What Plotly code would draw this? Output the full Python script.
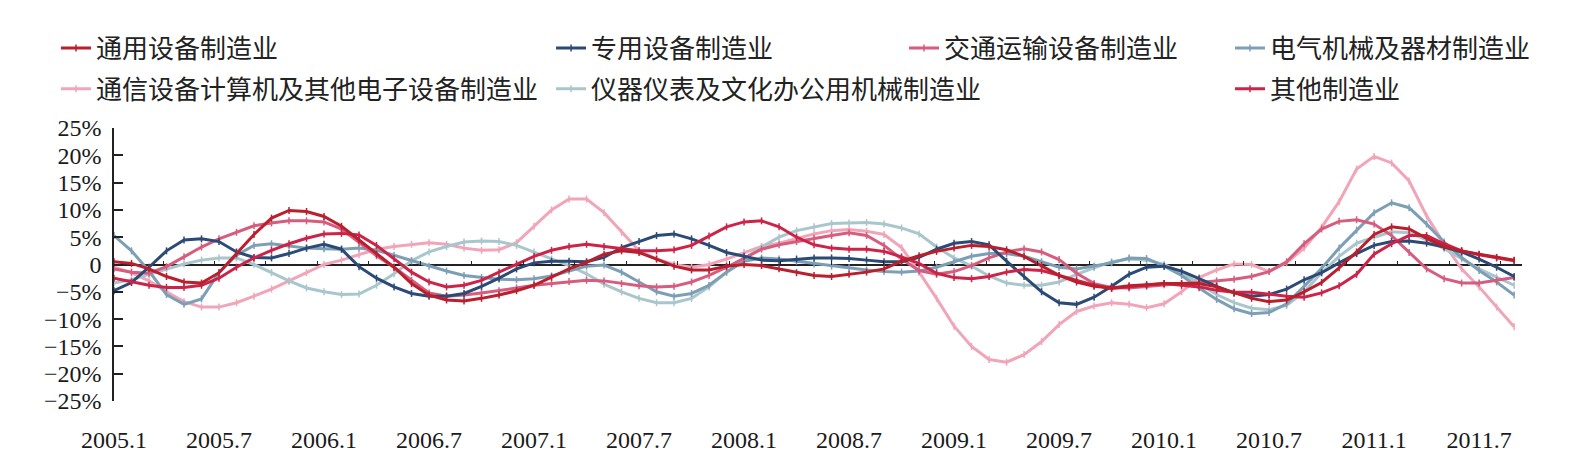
import plotly.graph_objects as go

months = [f"{y}.{m}" for y in range(2005, 2012) for m in range(1, 13)][:81]
tick_labels = ["2005.1", "2005.7", "2006.1", "2006.7", "2007.1", "2007.7", "2008.1",
               "2008.7", "2009.1", "2009.7", "2010.1", "2010.7", "2011.1", "2011.7"]
y_tick_vals = [25, 20, 15, 10, 5, 0, -5, -10, -15, -20, -25]
y_tick_text = ["25%", "20%", "15%", "10%", "5%", "0", "\u22125%", "\u221210%",
               "\u221215%", "\u221220%", "\u221225%"]

tongyong = [0.5, 0.2, -0.8, -2.2, -3.2, -3.4, -1.5, 2.0, 5.5, 8.5, 9.9, 9.7, 8.8, 7.0, 4.5,
            1.9, -0.5, -3.5, -5.6, -6.5, -6.7, -6.2, -5.6, -4.8, -3.8, -2.3, -0.8, 0.4, 1.9,
            2.5, 2.2, 1.0, -0.3, -1.0, -1.0, -0.3, 0.0, -0.2, -0.8, -1.5, -2.0, -2.2, -1.8,
            -1.4, -0.8, 0.6, 1.6, 2.4, 3.0, 3.5, 3.3, 2.7, 1.5, -0.2, -2.0, -3.2, -4.0, -4.3,
            -3.9, -3.7, -3.5, -3.5, -3.5, -4.1, -5.2, -6.2, -6.8, -6.5, -5.0, -3.3, -0.6, 2.3,
            5.5, 6.9, 6.5, 4.8, 3.3, 2.5, 1.9, 1.3, 0.8]
zhuanyong = [-4.8, -3.3, -0.5, 2.5, 4.5, 4.7, 4.2, 2.3, 1.3, 1.2, 2.0, 3.0, 3.7, 2.8, -0.4,
             -2.5, -4.1, -5.3, -5.8, -5.8, -5.3, -4.0, -2.5, -0.8, 0.3, 0.6, 0.6, 0.5, 1.3,
             3.1, 4.2, 5.3, 5.6, 4.7, 3.5, 2.2, 1.5, 0.8, 0.7, 1.0, 1.2, 1.2, 1.1,
             0.8, 0.5, 0.5, 1.3, 2.8, 3.9, 4.2, 3.6, 0.6, -2.2, -5.0, -7.0, -7.3, -6.0, -4.0,
             -1.8, -0.5, -0.3, -1.2, -2.6, -4.0, -5.2, -5.8, -5.5, -4.5, -2.8, -1.5, 0.3, 2.0,
             3.5, 4.2, 4.3, 3.9, 3.2, 2.3, 1.0, -0.5, -2.2]
jiaotong = [-0.8, -1.4, -1.6, -0.4, 1.4, 3.2, 4.7, 5.9, 7.1, 7.6, 8.0, 8.0, 7.8, 6.5, 4.0,
            1.6, -0.5, -2.9, -5.2, -5.8, -5.6, -5.2, -4.8, -4.3, -3.8, -3.5, -3.1, -2.9, -3.0,
            -3.5, -3.9, -4.1, -4.0, -3.2, -2.0, -0.5, 1.2, 2.8, 3.6, 4.2, 4.8, 5.3, 5.8,
            5.3, 3.5, 1.0, -1.1, -1.8, -1.3, -0.2, 1.2, 2.3, 2.9, 2.3, 0.9, -1.6, -3.5, -4.2,
            -4.3, -4.0, -3.7, -3.5, -3.3, -3.0, -2.7, -2.2, -1.3, 0.5, 3.8, 6.5, 7.9, 8.2,
            7.4, 5.3, 2.2, -0.8, -2.6, -3.4, -3.4, -2.9, -2.4]
dianqi = [5.3, 2.5, -1.2, -5.5, -7.3, -6.3, -1.5, 1.7, 3.5, 3.8, 3.4, 3.0, 2.9, 2.8, 3.0,
          2.6, 1.7, 0.7, -0.3, -1.2, -2.0, -2.4, -2.7, -2.8, -2.6, -2.1, -1.2, -0.3, -0.1,
          -1.4, -3.2, -5.0, -5.8, -5.3, -3.8, -1.4, 0.6, 1.2, 1.0, 0.6, 0.1, -0.3, -0.6,
          -1.0, -1.3, -1.4, -1.2, -0.5, 0.5, 1.5, 2.0, 2.0, 1.5, 0.5, -0.5, -0.8, -0.3, 0.3,
          1.2, 1.1, -0.3, -2.0, -4.3, -6.4, -8.1, -9.0, -8.8, -7.2, -4.0, -0.7, 3.0, 6.3,
          9.5, 11.3, 10.4, 7.4, 4.1, 1.3, -1.1, -3.2, -5.6]
tongxin = [-0.5, -1.5, -3.0, -5.0, -6.8, -7.8, -7.8, -7.0, -5.8, -4.5, -3.0, -1.5, 0.0, 0.8, 1.8,
           2.8, 3.3, 3.7, 4.0, 3.7, 3.0, 2.6, 2.7, 4.0, 7.0, 10.0, 12.0, 12.0, 9.5,
           5.9, 2.5, 1.0, 0.0, -0.5, 0.0, 1.0, 2.2, 3.3, 3.9, 4.7, 5.6, 6.2, 6.4,
           6.1, 5.5, 3.1, -1.4, -6.2, -11.3, -15.0, -17.4, -17.9, -16.5, -14.1, -11.0, -8.6, -7.6, -7.0,
           -7.3, -7.9, -7.2, -5.0, -2.4, -1.0, 0.1, 0.0, -1.3, 0.3, 3.0, 6.8, 11.5, 17.5,
           19.8, 18.6, 15.3, 8.9, 3.8, -0.8, -4.1, -7.8, -11.4]
yiqi = [-3.4, -2.8, -1.8, -0.8, 0.1, 0.8, 1.2, 1.2, 0.0, -1.5, -3.0, -4.3, -5.0, -5.5, -5.4,
        -3.8, -1.7, 0.7, 2.3, 3.3, 4.1, 4.3, 4.2, 3.5, 2.3, 1.0, -0.2, -1.7, -3.6,
        -5.0, -6.2, -7.0, -7.0, -6.2, -4.1, -1.4, 1.0, 3.2, 5.0, 6.2, 6.9, 7.5, 7.6,
        7.7, 7.4, 6.7, 5.6, 3.2, 1.2, -0.3, -2.1, -3.4, -3.8, -3.8, -3.2, -1.8, -0.6, 0.5,
        1.0, 0.8, 0.0, -1.5, -3.5, -5.5, -7.0, -8.0, -8.3, -7.5, -5.0, -1.5, 1.5, 3.9,
        5.0, 6.0, 5.8, 4.5, 2.9, 1.0, -0.8, -2.3, -3.8]
qita = [-2.5, -3.2, -3.8, -4.2, -4.2, -3.8, -2.5, -0.5, 1.2, 2.6, 3.8, 4.8, 5.6, 5.7, 5.4,
        3.5, 1.1, -1.4, -3.2, -4.1, -3.8, -2.9, -1.4, 0.1, 1.5, 2.6, 3.3, 3.7, 3.3,
        2.8, 2.5, 2.5, 2.7, 3.5, 5.2, 6.9, 7.8, 8.0, 6.9, 5.0, 3.6, 3.0, 2.8,
        2.8, 2.4, 1.4, 0.2, -1.6, -2.4, -2.6, -2.2, -1.4, -0.9, -1.1, -2.0, -2.9, -3.8, -4.4,
        -4.1, -3.8, -3.5, -3.8, -4.1, -4.7, -5.1, -5.1, -5.5, -5.8, -6.0, -5.2, -3.9, -1.8,
        1.9, 3.8, 5.3, 5.3, 3.8, 2.5, 1.8, 1.2, 0.7]

names = ["通用设备制造业", "专用设备制造业", "交通运输设备制造业", "电气机械及器材制造业",
         "通信设备计算机及其他电子设备制造业", "仪器仪表及文化办公用机械制造业", "其他制造业"]
series = [tongyong, zhuanyong, jiaotong, dianqi, tongxin, yiqi, qita]
colors = ["#b91f2d", "#2b4a76", "#d65d7e", "#7d9fb5", "#f0a5b9", "#a9c6cd", "#cc2449"]
legend_ids = ["legend", "legend2", "legend3", "legend4", "legend5", "legend6", "legend7"]
legend_pos = [(-0.0412, 1.293), (0.3104, 1.293), (0.5611, 1.293), (0.7926, 1.293),
              (-0.0412, 1.143), (0.3104, 1.143), (0.7926, 1.143)]
draw_order = [4, 5, 3, 2, 1, 6, 0]

fig = go.Figure()
# empty helper trace so the zero-line tick axis (x2) is instantiated
fig.add_trace(go.Scatter(x=[], y=[], xaxis="x2", yaxis="y", showlegend=False,
                         hoverinfo="skip", mode="lines"))
for k in draw_order:
    fig.add_trace(go.Scatter(
        x=months, y=series[k], name=names[k], mode="lines+markers",
        line=dict(color=colors[k], width=3),
        marker=dict(symbol="line-ns-open", size=5, line=dict(color=colors[k], width=1.5)),
        legend=legend_ids[k],
    ))

cjk = "Noto Sans CJK SC"
serif = "Liberation Serif"
layout = dict(
    width=1586, height=476,
    margin=dict(l=114, r=64, t=128, b=75),
    plot_bgcolor="white", paper_bgcolor="white",
    xaxis=dict(type="category", range=[0, 80.45], showline=False, ticks="",
               showgrid=False, zeroline=False, tickvals=tick_labels, ticktext=tick_labels,
               tickangle=0, tickfont=dict(family=serif, size=24, color="#1a1a1a"),
               ticklabelstandoff=22),
    xaxis2=dict(overlaying="x", anchor="free", position=0.5, side="top", type="linear",
                range=[0, 80.45], showline=False, ticks="outside", ticklen=4, tickwidth=1.2,
                tickcolor="#222", tick0=2.8, dtick=2.94, showticklabels=False,
                showgrid=False, zeroline=False),
    yaxis=dict(range=[-25, 25], showline=True, linecolor="#222", linewidth=1.5,
               ticks="inside", ticklen=9, tickwidth=1.5, tickcolor="#222",
               showgrid=False, zeroline=True, zerolinecolor="#222", zerolinewidth=1.5,
               tickvals=y_tick_vals, ticktext=y_tick_text, ticklabelstandoff=6,
               tickfont=dict(family=serif, size=24, color="#1a1a1a")),
    showlegend=True,
)
for lid, (lx, ly) in zip(legend_ids, legend_pos):
    layout[lid] = dict(x=lx, y=ly, xanchor="left", yanchor="middle", orientation="h",
                       bgcolor="rgba(0,0,0,0)", borderwidth=0,
                       font=dict(family=cjk, size=26, color="#222"))
fig.update_layout(**layout)
fig.write_html("out.html")
